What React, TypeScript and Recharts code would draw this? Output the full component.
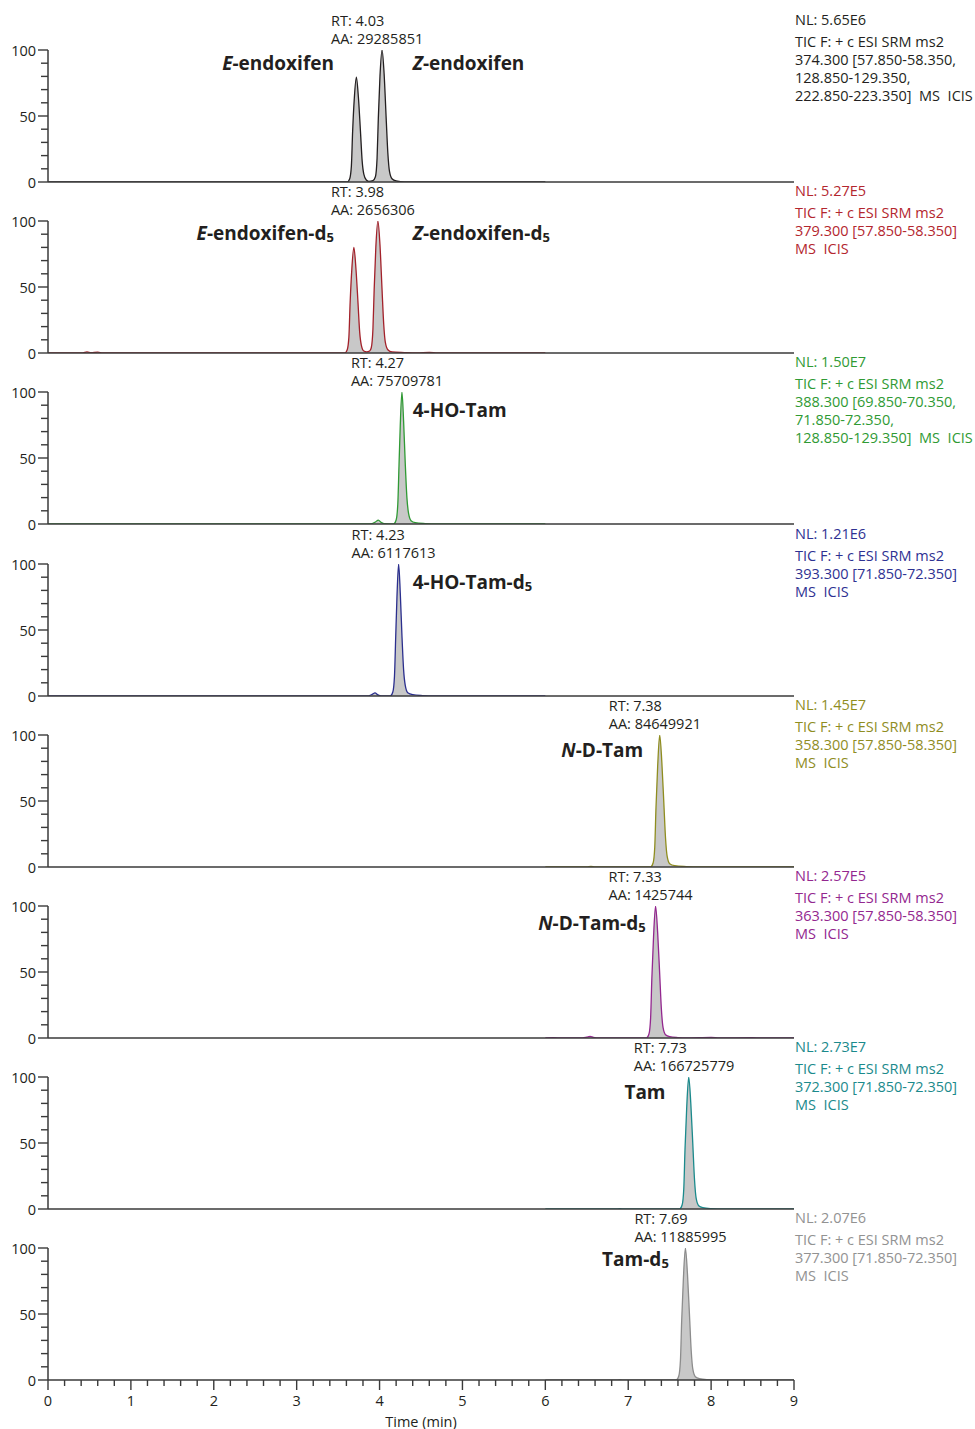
import React from 'react';
import { ComposedChart, Area, XAxis, YAxis, ReferenceDot } from 'recharts';

type Pt = [number, number];

// ---------- axis values ----------
const timeMajorTicks = [0, 1, 2, 3, 4, 5, 6, 7, 8, 9];
const timeMinorTicks: number[] = [];
for (let i = 0; i <= 45; i++) timeMinorTicks.push(Math.round(i * 2) / 10);
const intensityTicks = [0, 10, 20, 30, 40, 50, 60, 70, 80, 90, 100];
const intensityLabelTicks = [0, 50, 100];

// ---------- traces: [time (min), relative abundance (%)] ----------
const endoxifenTrace: Pt[] = [
  [0, 0], [3.61, 0], [3.64, 2.5], [3.66, 12], [3.675, 38], [3.695, 63], [3.72, 79.5], [3.745, 64],
  [3.77, 38], [3.79, 16], [3.81, 6], [3.84, 1.5], [3.87, 0.5], [3.92, 1], [3.95, 4], [3.97, 18],
  [3.985, 48], [4.005, 80], [4.03, 100], [4.055, 82], [4.08, 48], [4.1, 22], [4.12, 8], [4.15, 2.5],
  [4.2, 0.8], [4.3, 0], [6, 0],
];
const endoxifenD5Trace: Pt[] = [
  [0, 0], [0.42, 0], [0.47, 0.8], [0.52, 0.2], [0.6, 0.6], [0.66, 0.1], [3.58, 0], [3.61, 2.5],
  [3.63, 12], [3.645, 38], [3.665, 63], [3.69, 80], [3.715, 64], [3.74, 38], [3.76, 16], [3.78, 6],
  [3.81, 1.5], [3.845, 0.8], [3.88, 1.5], [3.9, 4], [3.92, 18], [3.935, 48], [3.955, 80], [3.98, 100],
  [4.005, 82], [4.03, 48], [4.05, 22], [4.07, 8], [4.1, 2.5], [4.15, 0.8], [4.3, 0.3], [4.45, 0],
  [4.6, 0.4], [4.7, 0], [6, 0],
];
const hoTamTrace: Pt[] = [
  [0, 0], [3.88, 0], [3.95, 1.5], [3.985, 3], [4.02, 1.2], [4.06, 0.2], [4.17, 0], [4.2, 3],
  [4.22, 15], [4.235, 45], [4.25, 75], [4.27, 100], [4.29, 78], [4.31, 46], [4.33, 20], [4.35, 8],
  [4.38, 2.5], [4.43, 1], [4.55, 0.3], [4.7, 0], [6, 0],
];
const hoTamD5Trace: Pt[] = [
  [0, 0], [3.85, 0], [3.91, 1.2], [3.945, 2.3], [3.98, 0.8], [4.02, 0], [4.13, 0], [4.16, 3],
  [4.18, 15], [4.195, 45], [4.21, 75], [4.23, 100], [4.25, 78], [4.27, 46], [4.29, 20], [4.31, 8],
  [4.34, 2.5], [4.4, 1], [4.52, 0.3], [4.65, 0], [6, 0],
];
const ndTamTrace: Pt[] = [
  [6, 0], [6.5, 0], [6.55, 0.4], [6.6, 0], [7.27, 0], [7.3, 3], [7.32, 15], [7.335, 45], [7.355, 76],
  [7.38, 100], [7.405, 80], [7.43, 48], [7.45, 22], [7.47, 8], [7.5, 2.5], [7.56, 1], [7.7, 0.3],
  [7.85, 0], [9, 0],
];
const ndTamD5Trace: Pt[] = [
  [6, 0], [6.1, 0.3], [6.2, 0], [6.45, 0], [6.5, 0.6], [6.54, 1.2], [6.58, 0.4], [6.65, 0], [7.22, 0],
  [7.25, 3], [7.27, 15], [7.285, 45], [7.305, 76], [7.33, 100], [7.355, 80], [7.38, 48], [7.4, 22],
  [7.42, 8], [7.45, 2.5], [7.5, 1], [7.6, 0.3], [7.7, 0], [8.0, 0.4], [8.1, 0], [8.5, 0.3], [8.6, 0],
  [9, 0],
];
const tamTrace: Pt[] = [
  [6, 0], [6.85, 0], [6.9, 0.3], [6.95, 0], [7.62, 0], [7.65, 3], [7.67, 15], [7.685, 45], [7.705, 76],
  [7.73, 100], [7.755, 80], [7.78, 48], [7.8, 22], [7.82, 8], [7.85, 2.5], [7.9, 1], [8.0, 0.3],
  [8.15, 0], [9, 0],
];
const tamD5Trace: Pt[] = [
  [6, 0], [6.85, 0], [6.9, 0.3], [6.95, 0], [7.58, 0], [7.61, 3], [7.63, 15], [7.645, 45], [7.665, 76],
  [7.69, 100], [7.715, 80], [7.74, 48], [7.76, 22], [7.78, 8], [7.81, 2.5], [7.86, 1], [7.95, 0.3],
  [8.1, 0], [9, 0],
];

// ---------- peak annotations ----------
const peakRT = [4.03, 3.98, 4.27, 4.23, 7.38, 7.33, 7.73, 7.69];
const peakAA = ['29285851', '2656306', '75709781', '6117613', '84649921', '1425744', '166725779', '11885995'];
const normLevels = ['5.65E6', '5.27E5', '1.50E7', '1.21E6', '1.45E7', '2.57E5', '2.73E7', '2.07E6'];
const NB = '\u00a0';
const MS_ICIS = `MS${NB}${NB}ICIS`;
const scanFilters: string[][] = [
  ['374.300 [57.850-58.350,', '128.850-129.350,', `222.850-223.350]${NB}${NB}${MS_ICIS}`],
  ['379.300 [57.850-58.350]', MS_ICIS],
  ['388.300 [69.850-70.350,', '71.850-72.350,', `128.850-129.350]${NB}${NB}${MS_ICIS}`],
  ['393.300 [71.850-72.350]', MS_ICIS],
  ['358.300 [57.850-58.350]', MS_ICIS],
  ['363.300 [57.850-58.350]', MS_ICIS],
  ['372.300 [71.850-72.350]', MS_ICIS],
  ['377.300 [71.850-72.350]', MS_ICIS],
];

type Part = { s: string; i?: boolean; sub?: boolean };
type Name = { parts: Part[]; t: number; v: number; anchor: 'start' | 'end' };
const compoundNames: Name[][] = [
  [
    { parts: [{ s: 'E', i: true }, { s: '-endoxifen' }], t: 3.45, v: 90, anchor: 'end' },
    { parts: [{ s: 'Z', i: true }, { s: '-endoxifen' }], t: 4.4, v: 90, anchor: 'start' },
  ],
  [
    { parts: [{ s: 'E', i: true }, { s: '-endoxifen-d' }, { s: '5', sub: true }], t: 3.45, v: 91, anchor: 'end' },
    { parts: [{ s: 'Z', i: true }, { s: '-endoxifen-d' }, { s: '5', sub: true }], t: 4.4, v: 91, anchor: 'start' },
  ],
  [{ parts: [{ s: '4-HO-Tam' }], t: 4.4, v: 86, anchor: 'start' }],
  [{ parts: [{ s: '4-HO-Tam-d' }, { s: '5', sub: true }], t: 4.4, v: 86, anchor: 'start' }],
  [{ parts: [{ s: 'N', i: true }, { s: '-D-Tam' }], t: 7.18, v: 88.6, anchor: 'end' }],
  [{ parts: [{ s: 'N', i: true }, { s: '-D-Tam-d' }, { s: '5', sub: true }], t: 7.21, v: 87, anchor: 'end' }],
  [{ parts: [{ s: 'Tam' }], t: 7.45, v: 88.6, anchor: 'end' }],
  [{ parts: [{ s: 'Tam-d' }, { s: '5', sub: true }], t: 7.49, v: 91.7, anchor: 'end' }],
];

const traces = [endoxifenTrace, endoxifenD5Trace, hoTamTrace, hoTamD5Trace, ndTamTrace, ndTamD5Trace, tamTrace, tamD5Trace];
const traceColors = ['#231f20', '#a3212a', '#2f9a34', '#2b2f8e', '#8f8d1f', '#93278f', '#1b8a8c', '#8c8c8c'];
const textColors = ['#231f20', '#b3262e', '#2f9a34', '#2e3192', '#8f8d1f', '#93278f', '#1b8a8c', '#929292'];

// ---------- styling ----------
const FONT = '"Open Sans", "Noto Sans", sans-serif';
const SMALL = 14.5;
const INK = '#231f20';
const AXIS = '#3a3a3a';
const FILL = '#c8c8c8';
const W = 975;
const H = 1429;
const PANEL_STEP = 171.2;
const PLOT_TOP = 50;
const PLOT_H = 132;
const Y_AXIS_W = 48;
const RIGHT = 181;

const YTick = (props: any) => {
  const { x, y, payload } = props;
  const v = payload.value;
  const major = intensityLabelTicks.includes(v);
  return (
    <g>
      <line x1={x - (major ? 10 : 7)} x2={x} y1={y} y2={y} stroke={AXIS} strokeWidth={1.4} />
      {major && (
        <text x={x - 12} y={y} textAnchor="end" dominantBaseline="central" fontFamily={FONT} fontSize={SMALL} fill={INK}>
          {v}
        </text>
      )}
    </g>
  );
};

const XTick = (props: any) => {
  const { x, y, payload } = props;
  const v = payload.value;
  const major = Math.abs(v - Math.round(v)) < 1e-6;
  return (
    <g>
      <line x1={x} x2={x} y1={y} y2={y + (major ? 10 : 6)} stroke={AXIS} strokeWidth={1.4} />
      {major && (
        <text x={x} y={y + 20} textAnchor="middle" dominantBaseline="central" fontFamily={FONT} fontSize={SMALL} fill={INK}>
          {Math.round(v)}
        </text>
      )}
    </g>
  );
};

function Panel({ index }: { index: number }) {
  const last = index === traces.length - 1;
  const top = Math.round(index * PANEL_STEP);
  const height = last ? H - top : PLOT_TOP + PLOT_H + 12;
  const xAxisH = height - PLOT_TOP - PLOT_H;
  const data = traces[index].map(([t, v]) => ({ t, v }));
  const rt = peakRT[index];
  const aa = peakAA[index];
  const tColor = textColors[index];
  return (
    <div style={{ position: 'absolute', left: 0, top, width: W, height }}>
      <ComposedChart width={W} height={height} data={data} margin={{ top: PLOT_TOP, right: RIGHT, bottom: 0, left: 0 }}>
        <XAxis
          type="number"
          dataKey="t"
          domain={[0, 9]}
          ticks={last ? timeMinorTicks : timeMajorTicks}
          interval={0}
          allowDataOverflow
          height={xAxisH}
          axisLine={{ stroke: AXIS, strokeWidth: 1.5 }}
          tickLine={false}
          tickSize={0}
          tickMargin={0}
          tick={last ? <XTick /> : false}
        />
        <YAxis
          type="number"
          domain={[0, 100]}
          ticks={intensityTicks}
          interval={0}
          allowDataOverflow
          width={Y_AXIS_W}
          axisLine={{ stroke: AXIS, strokeWidth: 1.5 }}
          tickLine={false}
          tickSize={0}
          tickMargin={0}
          tick={<YTick />}
        />
        <Area
          type="monotone"
          dataKey="v"
          stroke={traceColors[index]}
          strokeWidth={1.3}
          fill={FILL}
          fillOpacity={1}
          dot={false}
          activeDot={false}
          isAnimationActive={false}
        />
        <ReferenceDot
          x={rt}
          y={100}
          r={0}
          ifOverflow="visible"
          shape={(sp: any) => {
            const left = sp.cx - 4 - (30 + 8 * aa.length) / 2;
            return (
              <g fontFamily={FONT} fontSize={SMALL} fill={INK}>
                <text x={left} y={sp.cy - 30} dominantBaseline="central">{`RT: ${rt.toFixed(2)}`}</text>
                <text x={left} y={sp.cy - 12} dominantBaseline="central">{`AA: ${aa}`}</text>
              </g>
            );
          }}
        />
        <ReferenceDot
          x={9}
          y={100}
          r={0}
          ifOverflow="visible"
          shape={(sp: any) => (
            <g fontFamily={FONT} fontSize={SMALL} fill={tColor}>
              <text x={sp.cx + 1} y={sp.cy - 31} dominantBaseline="central">{`NL: ${normLevels[index]}`}</text>
              <text x={sp.cx + 1} y={sp.cy - 9} dominantBaseline="central">TIC F: + c ESI SRM ms2</text>
              {scanFilters[index].map((l, i) => (
                <text key={i} x={sp.cx + 1} y={sp.cy + 9 + 18 * i} dominantBaseline="central">{l}</text>
              ))}
            </g>
          )}
        />
        {compoundNames[index].map((n, k) => (
          <ReferenceDot
            key={k}
            x={n.t}
            y={n.v}
            r={0}
            ifOverflow="visible"
            shape={(sp: any) => (
              <text
                x={sp.cx}
                y={sp.cy}
                textAnchor={n.anchor}
                dominantBaseline="central"
                fontFamily={FONT}
                fontSize={19}
                fontWeight={700}
                fill={INK}
              >
                {n.parts.map((p, j) => (
                  <tspan key={j} fontStyle={p.i ? 'italic' : 'normal'} fontSize={p.sub ? 13 : 19} dy={p.sub ? 4 : 0}>
                    {p.s}
                  </tspan>
                ))}
              </text>
            )}
          />
        ))}
        {last && (
          <ReferenceDot
            x={4.5}
            y={0}
            r={0}
            ifOverflow="visible"
            shape={(sp: any) => (
              <text x={sp.cx} y={sp.cy + 41} textAnchor="middle" dominantBaseline="central" fontFamily={FONT} fontSize={SMALL} fill={INK}>
                Time (min)
              </text>
            )}
          />
        )}
      </ComposedChart>
    </div>
  );
}

export default function App() {
  return (
    <div style={{ position: 'absolute', left: 0, top: 0, width: W, height: H, background: '#fff', overflow: 'hidden' }}>
      {traces.map((_, i) => (
        <Panel key={i} index={i} />
      ))}
    </div>
  );
}
